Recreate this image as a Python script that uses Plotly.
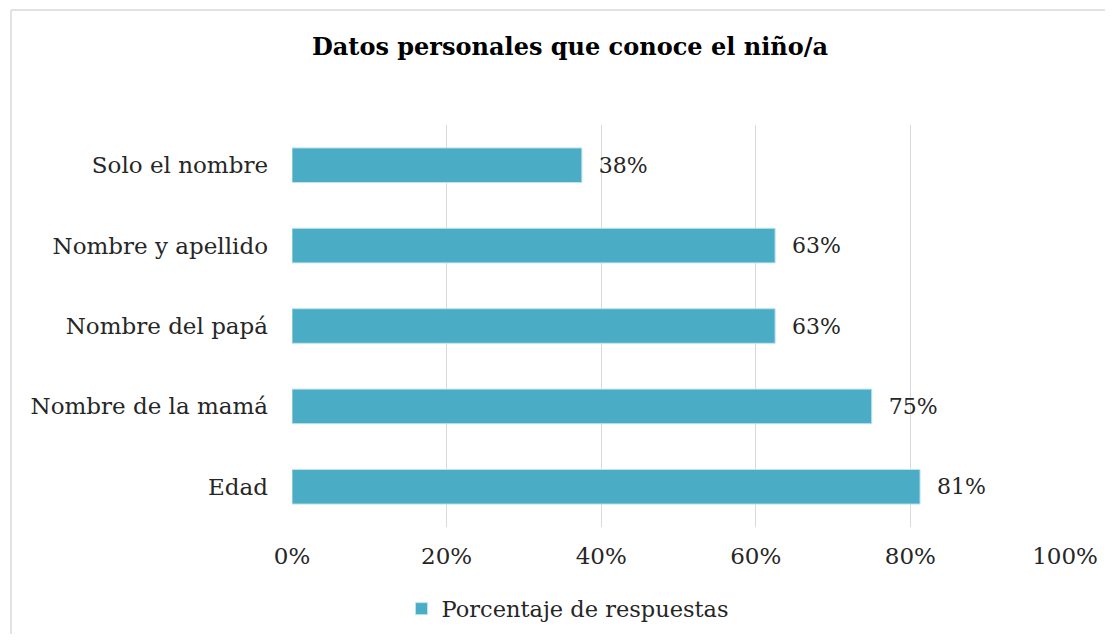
import plotly.graph_objects as go

categories = ["Edad", "Nombre de la mamá", "Nombre del papá", "Nombre y apellido", "Solo el nombre"]
values = [0.8125, 0.75, 0.625, 0.625, 0.375]
x_ticks = [0, 0.2, 0.4, 0.6, 0.8, 1.0]
x_tick_labels = ["0%", "20%", "40%", "60%", "80%", "100%"]
series_name = "Porcentaje de respuestas"
title_text = "Datos personales que conoce el niño/a"

# page body has an 8px margin, so the figure is placed at (8, 8)
OFF = 8
W, H = 1113 - 2 * OFF, 642 - 2 * OFF
L, T = 292 - OFF, 125 - OFF
R = W - (1065 - OFF)
B = H - (527 - OFF)
FONT = "Georgia, 'DejaVu Serif', 'Liberation Serif', serif"

fig = go.Figure()
fig.add_trace(go.Bar(
    y=categories, x=values, orientation="h", name=series_name,
    marker=dict(color="#4BACC6", line=dict(color="#BFE3ED", width=1)),
    width=0.43,
    texttemplate="\u00a0\u00a0%{x:.0%}", textposition="outside", cliponaxis=False,
    textfont=dict(family=FONT, size=22, color="#262626"),
    showlegend=True,
))

# chart-area frame: only its top and left edges are inside the view
pw = W - L - R
ph = H - T - B
fx0 = (11 - OFF - L) / pw
fx1 = (W - L) / pw
fy0 = -B / ph
fy1 = (H - B - (10 - OFF)) / ph
frame = dict(color="#D9D9D9", width=1.5)
fig.add_shape(type="line", xref="paper", yref="paper", x0=fx0, x1=fx1, y0=fy1, y1=fy1,
              line=frame, layer="below")
fig.add_shape(type="line", xref="paper", yref="paper", x0=fx0, x1=fx0, y0=fy0, y1=fy1,
              line=frame, layer="below")

fig.update_layout(
    width=W, height=H,
    margin=dict(l=L, r=R, t=T, b=B),
    paper_bgcolor="white", plot_bgcolor="white",
    font=dict(family=FONT, size=23, color="#262626"),
    title=dict(text="<b>" + title_text + "</b>", x=(570 - OFF) / W, xanchor="center",
               y=1 - (47 - OFF) / H, yanchor="middle", xref="container", yref="container",
               font=dict(family=FONT, size=24, color="#000000")),
    xaxis=dict(range=[0, 1], tickvals=x_ticks, ticktext=x_tick_labels,
               showgrid=True, gridcolor="#D9D9D9", gridwidth=1.3,
               zeroline=False, showline=False, ticks="", ticklen=0,
               ticklabelstandoff=13,
               tickfont=dict(size=23), automargin=False, fixedrange=True),
    yaxis=dict(range=[-0.5, 4.5], showgrid=False, zeroline=False, showline=False,
               ticks="", ticklabelstandoff=23, tickfont=dict(size=23), automargin=False),
    showlegend=True,
    legend=dict(orientation="h", xref="container", yref="container",
                x=(568 - OFF) / W, xanchor="center", y=1 - (609 - OFF) / H, yanchor="middle",
                font=dict(size=22.5), itemwidth=30),
)

fig.write_html("out.html")
